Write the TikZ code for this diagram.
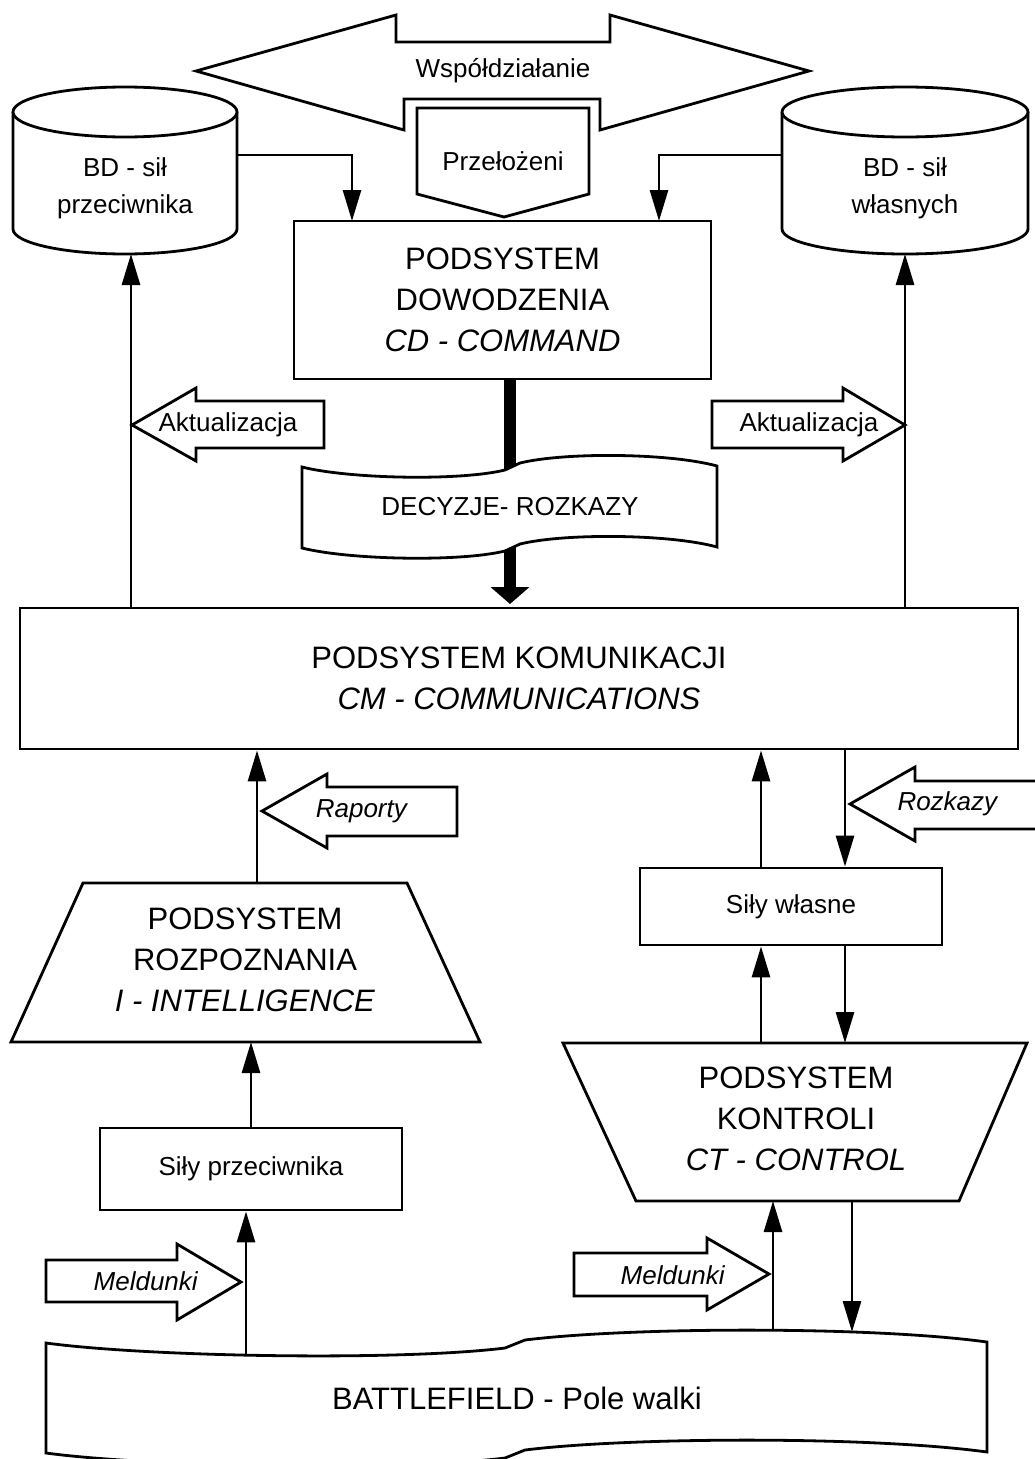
\documentclass[tikz,border=0pt]{standalone}
\usepackage{fontspec}
\setmainfont{Liberation Sans}
\usetikzlibrary{arrows.meta}
\begin{document}
\begin{tikzpicture}[x=1pt,y=-1pt,line width=2.8pt,
  big/.style={font=\fontsize{31}{41}\selectfont,align=center,inner sep=0pt},
  small/.style={font=\fontsize{26}{37}\selectfont,align=center,inner sep=0pt},
  box/.style={draw,fill=white,inner sep=0pt},
  conn/.style={-{Triangle[length=31pt,width=18pt]}},
  shp/.style={draw,fill=white,line join=miter},
]
\useasboundingbox (0,0) rectangle (1035,1459);
\clip (0,0) rectangle (1035,1459);

% --- Wspoldzialanie double arrow
\draw[shp] (196,71) -- (396,15) -- (396,42) -- (610,42) -- (610,15) -- (809,71)
  -- (600,130) -- (600,99) -- (404,99) -- (404,130) -- cycle;
\node[small] (wsp) at (503,71) {Współdziałanie};

% --- Przelozeni pentagon
\draw[shp] (417,108) -- (589,108) -- (589,194) -- (504,217) -- (417,194) -- cycle;
\node[small] (prz) at (503,161) {Przełożeni};

% --- cylinders
\draw[shp] (13,112) -- (13,229) arc[start angle=180,end angle=360,x radius=112pt,y radius=25pt] -- (237,112);
\draw[shp] (125,112) ellipse[x radius=112pt,y radius=25pt];
\node[small,font=\fontsize{26}{37}\selectfont] (bdp) at (125,188) {BD - sił\\przeciwnika};

\draw[shp] (782,112) -- (782,229) arc[start angle=180,end angle=360,x radius=123pt,y radius=25pt] -- (1028,112);
\draw[shp] (905,112) ellipse[x radius=123pt,y radius=25pt];
\node[small] (bdw) at (905,188) {BD - sił\\własnych};

\coordinate (lcR) at (237,155);
\coordinate (rcL) at (782,155);
\coordinate (lcB) at (131,254);
\coordinate (rcB) at (905,254);

% --- PODSYSTEM DOWODZENIA
\node[box,big,minimum width=417pt,minimum height=158pt] (dow) at (502.5,300)
  {PODSYSTEM\\DOWODZENIA\\\textit{CD - COMMAND}};
\coordinate (dowL) at (352,221);
\coordinate (dowR) at (659,221);
\draw[conn] (lcR) -| (dowL);
\draw[conn] (rcL) -| (dowR);

% --- thick arrow and DECYZJE banner
\coordinate (thickEnd) at (510,604);
\draw[line width=12pt,-{Triangle[length=17pt,width=38pt]}] (dow.south -| thickEnd) -- (thickEnd);
\draw[shp] (302,467) .. controls (350,479) and (460,481) .. (505,470) -- (520,463)
  .. controls (565,452) and (670,453) .. (717,466) -- (717,547)
  .. controls (670,534) and (565,533) .. (520,544) -- (505,551)
  .. controls (460,562) and (350,560) .. (302,548) -- cycle;
\node[small] (dec) at (510,507) {DECYZJE- ROZKAZY};

% --- PODSYSTEM KOMUNIKACJI
\node[box,big,minimum width=998pt,minimum height=141pt] (kom) at (519,678.5)
  {PODSYSTEM KOMUNIKACJI\\\textit{CM - COMMUNICATIONS}};
\draw[conn] (kom.north -| lcB) -- (lcB);
\draw[conn] (kom.north -| rcB) -- (rcB);

% --- Aktualizacja arrows
\draw[shp] (132,425) -- (196,388) -- (196,401) -- (324,401) -- (324,448) -- (196,448) -- (196,461) -- cycle;
\node[small] (akl) at (228,425) {Aktualizacja};
\draw[shp] (905,425) -- (843,388) -- (843,401) -- (712,401) -- (712,448) -- (843,448) -- (843,461) -- cycle;
\node[small] (akr) at (809,425) {Aktualizacja};

% --- left column
\draw[shp] (83,883) -- (407,883) -- (480,1042) -- (11,1042) -- cycle;
\node[big] (roz) at (245,960) {PODSYSTEM\\ROZPOZNANIA\\\textit{I - INTELLIGENCE}};
\coordinate (rozT) at (257,883);
\coordinate (rozB) at (251,1042);
\draw[conn] (rozT) -- (rozT |- kom.south);

\draw[shp] (262,811) -- (327,774) -- (327,787) -- (457,787) -- (457,836) -- (327,836) -- (327,848) -- cycle;
\node[small] (rap) at (362,811) {\textit{Raporty}};

\node[box,small,minimum width=302pt,minimum height=82pt] (sp) at (251,1169) {Siły przeciwnika};
\draw[conn] (sp.north) -- (rozB);

% --- right column
\node[box,small,minimum width=302pt,minimum height=77pt] (sw) at (791,906.5) {Siły własne};
\coordinate (swU) at (761,868);
\coordinate (komD) at (845,749);
\draw[conn] (swU) -- (swU |- kom.south);
\draw[conn] (komD) -- (komD |- sw.north);

\draw[shp] (850,804) -- (915,767) -- (915,781) -- (1045,781) -- (1045,829) -- (915,829) -- (915,841) -- cycle;
\node[small] (rzk) at (948,804) {\textit{Rozkazy}};

\draw[shp] (563,1043) -- (1027,1043) -- (959,1201) -- (636,1201) -- cycle;
\node[big] (kon) at (796,1119) {PODSYSTEM\\KONTROLI\\\textit{CT - CONTROL}};
\coordinate (konTL) at (761,1043);
\coordinate (konTR) at (845,1043);
\draw[conn] (konTL) -- (konTL |- sw.south);
\draw[conn] (sw.south -| konTR) -- (konTR);

% --- battlefield
\draw[shp] (46,1343) .. controls (150,1357) and (400,1361) .. (505,1348) -- (525,1340)
  .. controls (630,1327) and (870,1326) .. (987,1342) -- (987,1452)
  .. controls (870,1436) and (630,1437) .. (525,1450) -- (505,1458)
  .. controls (400,1471) and (150,1467) .. (46,1453) -- cycle;
\node[big] (bf) at (517,1398) {BATTLEFIELD - Pole walki};

\coordinate (bfL) at (246,1355);
\coordinate (bfR1) at (773,1331);
\coordinate (bfR2) at (852,1332);
\coordinate (konBL) at (773,1201);
\coordinate (konBR) at (852,1201);
\draw[conn] (bfL) -- (bfL |- sp.south);
\draw[conn] (bfR1) -- (konBL);
\draw[conn] (konBR) -- (bfR2);

\draw[shp] (46,1260) -- (177,1260) -- (177,1244) -- (241,1282) -- (177,1320) -- (177,1302) -- (46,1302) -- cycle;
\node[small] (mel1) at (146,1281) {\textit{Meldunki}};
\draw[shp] (574,1253) -- (707,1253) -- (707,1238) -- (769,1274) -- (707,1310) -- (707,1296) -- (574,1296) -- cycle;
\node[small] (mel2) at (673,1275) {\textit{Meldunki}};
\end{tikzpicture}
\end{document}
